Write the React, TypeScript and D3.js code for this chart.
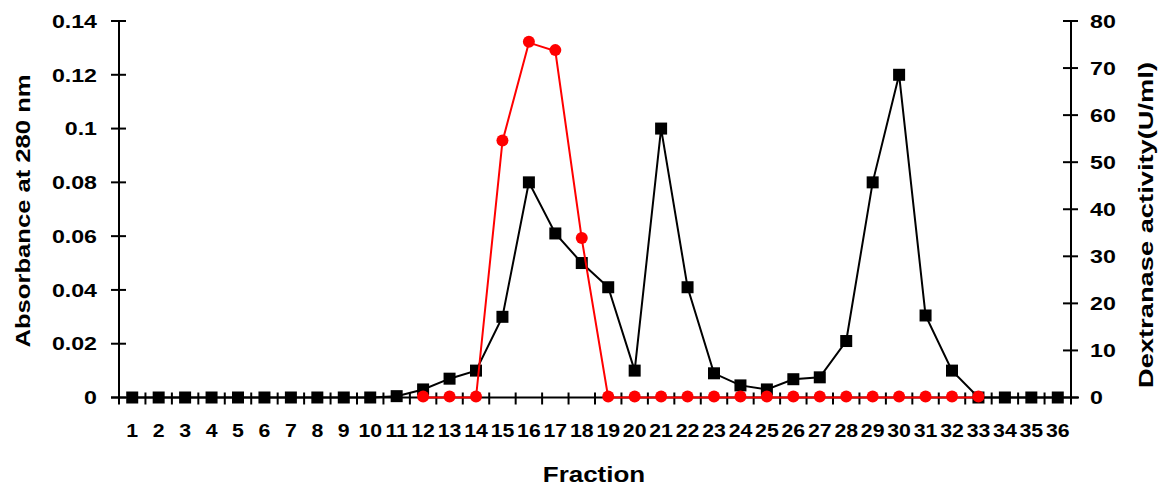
import * as d3 from "d3";
import { useEffect, useRef } from "react";

// fractions 1..36
const fractions = d3.range(1, 37);

// absorbance at 280 nm (left axis)
const absorbance = [
  0, 0, 0, 0, 0, 0, 0, 0, 0, 0, 0.0005, 0.003, 0.007, 0.01, 0.03, 0.08, 0.061, 0.05,
  0.041, 0.01, 0.1, 0.041, 0.009, 0.0045, 0.003, 0.0068, 0.0075, 0.021, 0.08, 0.12,
  0.0305, 0.01, 0, 0, 0, 0,
];

// dextranase activity U/ml (right axis), measured on fractions 12..33
const activityFractions = d3.range(12, 34);
const activity = [
  0, 0, 0, 54.4, 75.4, 73.6, 33.7, 0, 0, 0, 0, 0, 0, 0, 0, 0, 0, 0, 0, 0, 0, 0,
];

const leftTicks = [0, 0.02, 0.04, 0.06, 0.08, 0.1, 0.12, 0.14];
const rightTicks = [0, 10, 20, 30, 40, 50, 60, 70, 80];

export default function App() {
  const ref = useRef<SVGSVGElement>(null);

  useEffect(() => {
    if (!ref.current) return;
    const svg = d3.select(ref.current);
    svg.selectAll("*").remove();

    const width = 1160;
    const height = 489;
    const left = 119;
    const right = 1071;
    const top = 21;
    const bottom = 397.5;
    const font = "Arial, 'Liberation Sans', sans-serif";
    const stretch = 1.22;

    svg.attr("width", width).attr("height", height);

    const x = d3.scaleBand<number>().domain(fractions).range([left, right]).padding(0);
    const cx = (f: number) => (x(f) as number) + x.bandwidth() / 2;
    const yL = d3.scaleLinear().domain([0, 0.14]).range([bottom, top]);
    const yR = d3.scaleLinear().domain([0, 80]).range([bottom, top]);

    const axes = svg.append("g").attr("stroke", "#000").attr("stroke-width", 2);

    // axis lines
    axes.append("line").attr("x1", left).attr("x2", left).attr("y1", top).attr("y2", bottom + 7);
    axes.append("line").attr("x1", right).attr("x2", right).attr("y1", top).attr("y2", bottom + 7);
    axes.append("line").attr("x1", left - 8).attr("x2", right + 8).attr("y1", bottom).attr("y2", bottom);

    // y ticks (crossing)
    leftTicks.forEach((t) => {
      axes.append("line").attr("x1", left - 8).attr("x2", left + 7).attr("y1", yL(t)).attr("y2", yL(t));
    });
    rightTicks.forEach((t) => {
      axes.append("line").attr("x1", right - 8).attr("x2", right + 7).attr("y1", yR(t)).attr("y2", yR(t));
    });

    // x ticks at band boundaries
    fractions.slice(1).forEach((f) => {
      const xx = x(f) as number;
      axes.append("line").attr("x1", xx).attr("x2", xx).attr("y1", bottom - 5).attr("y2", bottom + 7);
    });

    const label = (
      txt: string,
      tx: number,
      ty: number,
      size: number,
      anchor: string,
      rot = 0,
      sx = stretch
    ) =>
      svg
        .append("text")
        .attr("transform", `translate(${tx},${ty}) rotate(${rot}) scale(${sx},1)`)
        .attr("text-anchor", anchor)
        .attr("dominant-baseline", "central")
        .attr("font-family", font)
        .attr("font-weight", "bold")
        .attr("font-size", size)
        .attr("fill", "#000")
        .text(txt);

    leftTicks.forEach((t) => label(String(t), 97, yL(t), 19, "end"));
    rightTicks.forEach((t) => label(String(t), 1090, yR(t), 19, "start"));
    fractions.forEach((f) => label(String(f), cx(f), 430, 19, "middle", 0, 1.12));

    label("Fraction", 594, 474, 22, "middle", 0, 1.18);
    label("Absorbance at 280 nm", 23, 211, 21, "middle", -90, 1.22);
    label("Dextranase activity(U/ml)", 1146, 225, 21, "middle", -90, 1.3);

    // absorbance series
    const lineL = d3
      .line<number>()
      .x((_, i) => cx(fractions[i]))
      .y((d) => yL(d));

    svg
      .append("path")
      .attr("d", lineL(absorbance))
      .attr("fill", "none")
      .attr("stroke", "#000")
      .attr("stroke-width", 2);

    svg
      .append("g")
      .selectAll("rect")
      .data(absorbance)
      .enter()
      .append("rect")
      .attr("x", (_, i) => cx(fractions[i]) - 6)
      .attr("y", (d) => yL(d) - 6)
      .attr("width", 12)
      .attr("height", 12)
      .attr("fill", "#000");

    // activity series
    const lineR = d3
      .line<number>()
      .x((_, i) => cx(activityFractions[i]))
      .y((d) => yR(d));

    svg
      .append("path")
      .attr("d", lineR(activity))
      .attr("fill", "none")
      .attr("stroke", "#ff0000")
      .attr("stroke-width", 2);

    svg
      .append("g")
      .selectAll("circle")
      .data(activity)
      .enter()
      .append("circle")
      .attr("cx", (_, i) => cx(activityFractions[i]))
      .attr("cy", (d) => yR(d) - 1)
      .attr("r", 6)
      .attr("fill", "#ff0000");
  }, []);

  return (
    <div style={{ position: "fixed", left: 0, top: 0, background: "#fff" }}>
      <svg ref={ref} style={{ display: "block" }} />
    </div>
  );
}
